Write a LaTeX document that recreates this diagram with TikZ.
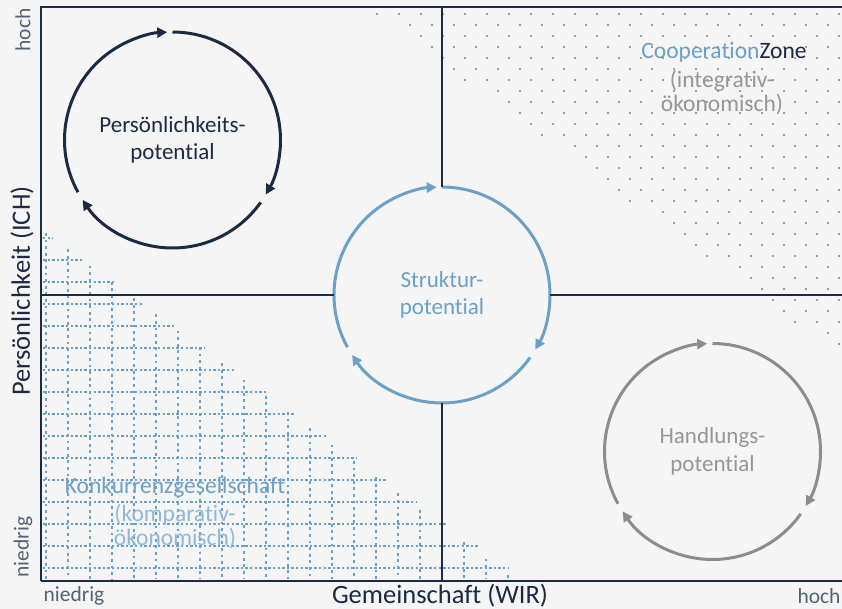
\documentclass[tikz,border=0pt]{standalone}
\usepackage{fontspec}
\setmainfont{Carlito}[Ligatures=NoCommon]
\usetikzlibrary{arrows.meta}
\definecolor{navy}{RGB}{28,42,68}
\definecolor{sblue}{RGB}{107,160,201}
\definecolor{cgray}{RGB}{140,140,140}
\definecolor{tgray}{RGB}{150,150,150}
\definecolor{lgray}{RGB}{85,98,115}
\definecolor{dotc}{RGB}{158,158,158}
\definecolor{bgc}{RGB}{245,245,245}
\newcommand\mycycle[2]{%
  \draw[#2] (#1.center) ++(-90:108) arc[start angle=-90,end angle=30.3,radius=108];
  \draw[#2] (#1.center) ++(35.3:108) arc[start angle=35.3,end angle=146.3,radius=108];
  \draw[#2] (#1.center) ++(151.1:108) arc[start angle=151.1,end angle=267.2,radius=108];
}
\begin{document}
\begin{tikzpicture}[x=1pt,y=-1pt,
  axisline/.style={draw=navy,line width=2pt},
  cycarrow/.style={line width=3pt,-{Triangle[length=10pt,width=10pt]}},
  bigcirc/.style={circle,minimum size=216pt,inner sep=0pt,align=center,font=\fontsize{23}{27.5}\selectfont},
  axlab/.style={text=navy,font=\fontsize{26.5}{30}\selectfont},
  smalllab/.style={text=lgray,font=\fontsize{21.5}{24}\selectfont},
  zonelab/.style={font=\fontsize{23.5}{26}\selectfont},
  gridh/.style={draw=sblue,line width=2.8pt,dash pattern=on 2.4pt off 2.2pt},
  gridv/.style={draw=sblue,line width=2.8pt,dash pattern=on 2.8pt off 3.8pt}]
\useasboundingbox (0,0) rectangle (842,609);
\fill[bgc] (0,0) rectangle (842,609);

% dot pattern (top right)
\foreach \k in {0,...,31}{
  \pgfmathsetmacro\yy{14+11*\k}
  \pgfmathsetmacro\xo{mod(\k,2)==0 ? 377 : 388}
  \pgfmathsetmacro\xmin{365+(\yy-7)*1.36}
  \foreach \j in {0,...,21}{
    \pgfmathsetmacro\xx{\xo+22*\j}
    \pgfmathtruncatemacro\ok{((\xx>=\xmin) && (\xx<=843)) ? 1 : 0}
    \ifnum\ok=1 \fill[dotc] (\xx-1.3,\yy-1.3) rectangle ++(2.6,2.6);\fi
  }
}

% grid pattern (bottom left)
\foreach \k in {0,...,15}{
  \pgfmathsetmacro\yy{238+22*\k}
  \pgfmathsetmacro\xe{53+(\yy-238)*1.38}
  \draw[gridh] (43,\yy) -- (\xe,\yy);
}
\foreach \k in {0,...,21}{
  \pgfmathsetmacro\xx{46+22*\k}
  \pgfmathsetmacro\yt{233+(\xx-46)*0.74}
  \draw[gridv] (\xx,\yt) -- (\xx,579);
}

% circles
\node[bigcirc,text=navy] (P) at (172.5,140) {Persönlichkeits-\\potential};
\node[bigcirc,text=sblue] (S) at (442,295) {Struktur-\\potential};
\node[bigcirc,text=tgray] (H) at (712.5,451.5) {Handlungs-\\potential};
\mycycle{P}{cycarrow,navy}
\mycycle{S}{cycarrow,sblue}
\mycycle{H}{cycarrow,cgray}

% frame and axes
\coordinate (TL) at (41,7);
\coordinate (TR) at (842,7);
\coordinate (BL) at (41,581);
\coordinate (BR) at (842,581);
\coordinate (MT) at (442,7);
\coordinate (MB) at (442,581);
\coordinate (ML) at (41,295);
\coordinate (MR) at (842,295);
\draw[axisline] (BL) -- (TL) -- (TR);
\draw[axisline] (BL) -- (BR);
\draw[axisline] (MT) -- (S.north);
\draw[axisline] (S.south) -- (MB);
\draw[axisline] (ML) -- (S.west);
\draw[axisline] (S.east) -- (MR);

% axis labels
\node[axlab,rotate=90] (ylab) at (22,291) {Persönlichkeit (ICH)};
\node[axlab] (xlab) at (440,596) {Gemeinschaft (WIR)};
\node[smalllab,rotate=90] (yhi) at (23,30) {hoch};
\node[smalllab,rotate=90] (ylo) at (23,547) {niedrig};
\node[smalllab] (xlo) at (74,596) {niedrig};
\node[smalllab] (xhi) at (819,596) {hoch};

% zone labels
\node[zonelab,text=navy] (C1) at (724,52) {\textcolor{sblue}{Cooperation}Zone};
\node[zonelab,text=tgray] (C2) at (722,81) {(integrativ-};
\node[zonelab,text=tgray] (C3) at (722,105) {ökonomisch)};
\node[zonelab,text=sblue] (K1) at (175,487) {Konkurrenzgesellschaft};
\node[zonelab,text=sblue!75] (K2) at (175,515) {(komparativ-};
\node[zonelab,text=sblue!75] (K3) at (175,539) {ökonomisch)};
\end{tikzpicture}
\end{document}
